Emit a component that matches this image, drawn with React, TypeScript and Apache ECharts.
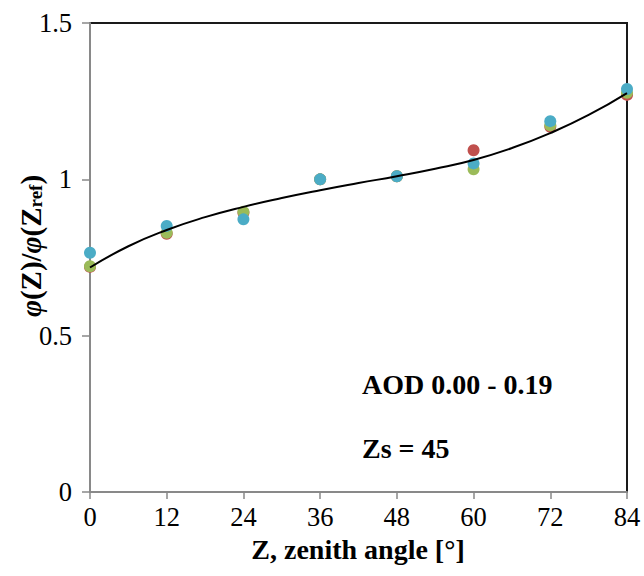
import React, { useEffect, useRef } from "react";
import * as echarts from "echarts";

const angles = [0, 12, 24, 36, 48, 60, 72, 84];
const redValues = [0.72, 0.826, 0.893, 1.0, 1.01, 1.093, 1.168, 1.27];
const greenValues = [0.722, 0.829, 0.896, 1.0, 1.01, 1.032, 1.173, 1.277];
const aquaValues = [0.765, 0.851, 0.872, 1.0, 1.01, 1.051, 1.186, 1.289];

const trendAngles = [0, 6, 12, 18, 24, 30, 36, 42, 48, 54, 60, 66, 72, 78, 84];
const trendValues = [0.718, 0.786, 0.838, 0.879, 0.912, 0.94, 0.965, 0.988, 1.01, 1.034, 1.062, 1.1, 1.148, 1.206, 1.276];

const xLabel = "Z, zenith angle [°]";
const note1 = "AOD 0.00 - 0.19";
const note2 = "Zs = 45";

const FONT = "Liberation Serif";

function pairs(xs: number[], ys: number[]) {
  return xs.map((x, i) => [x, ys[i]]);
}

export default function App() {
  const ref = useRef<HTMLDivElement>(null);
  useEffect(() => {
    if (!ref.current) return;
    const chart = echarts.init(ref.current, null, { renderer: "svg" });
    const dot = (name: string, color: string, vals: number[]) => ({
      type: "scatter",
      name,
      data: pairs(angles, vals),
      symbol: "circle",
      symbolSize: 12,
      itemStyle: { color, opacity: 1 },
      z: 2,
    });
    chart.setOption({
      animation: false,
      backgroundColor: "#ffffff",
      textStyle: { fontFamily: FONT },
      grid: {
        left: 90,
        top: 23,
        right: 17,
        bottom: 84,
        show: true,
        borderColor: "#1a1a1a",
        borderWidth: 2,
        backgroundColor: "transparent",
      },
      xAxis: {
        type: "value",
        min: 0,
        max: 84,
        interval: 12,
        splitLine: { show: false },
        axisLine: { show: true, onZero: false, lineStyle: { color: "#898989", width: 2 } },
        axisTick: { show: true, inside: false, length: 7, lineStyle: { color: "#898989", width: 1.5 } },
        axisLabel: { color: "#000", fontFamily: FONT, fontSize: 26.5, margin: 11 },
      },
      yAxis: {
        type: "value",
        min: 0,
        max: 1.5,
        interval: 0.5,
        splitLine: { show: false },
        axisLine: { show: true, onZero: false, lineStyle: { color: "#898989", width: 2 } },
        axisTick: { show: true, inside: false, length: 8, lineStyle: { color: "#898989", width: 1.5 } },
        axisLabel: { color: "#000", fontFamily: FONT, fontSize: 26.5, margin: 18 },
      },
      series: [
        dot("red", "#C0504D", redValues),
        dot("green", "#9BBB59", greenValues),
        dot("aqua", "#4BACC6", aquaValues),
        {
          type: "line",
          name: "trend",
          data: pairs(trendAngles, trendValues),
          smooth: true,
          showSymbol: false,
          symbol: "none",
          lineStyle: { color: "#000", width: 2 },
          z: 5,
        },
      ],
      graphic: [
        {
          type: "text",
          x: 358,
          y: 549,
          style: {
            text: xLabel,
            fontFamily: FONT,
            fontSize: 28,
            fontWeight: "bold",
            fill: "#000",
            align: "center",
            verticalAlign: "middle",
          },
        },
        {
          type: "text",
          x: 28,
          y: 246,
          rotation: Math.PI / 2,
          style: {
            text: "{p|φ}{b|(Z)/}{p|φ}{b|(Z}{s|ref}{b|)}",
            fontFamily: FONT,
            fill: "#000",
            align: "center",
            verticalAlign: "middle",
            rich: {
              p: { fontFamily: FONT, fontSize: 29, fontWeight: "bold", fontStyle: "italic", fill: "#000", lineHeight: 34, verticalAlign: "bottom" },
              b: { fontFamily: FONT, fontSize: 29, fontWeight: "bold", fill: "#000", lineHeight: 34, verticalAlign: "bottom" },
              s: { fontFamily: FONT, fontSize: 19, fontWeight: "bold", fill: "#000", lineHeight: 17, verticalAlign: "bottom" },
            },
          },
        },
        {
          type: "text",
          x: 362,
          y: 384,
          style: {
            text: note1,
            fontFamily: FONT,
            fontSize: 28,
            fontWeight: "bold",
            fill: "#000",
            align: "left",
            verticalAlign: "middle",
          },
        },
        {
          type: "text",
          x: 362,
          y: 448,
          style: {
            text: note2,
            fontFamily: FONT,
            fontSize: 28,
            fontWeight: "bold",
            fill: "#000",
            align: "left",
            verticalAlign: "middle",
          },
        },
      ],
    });
    return () => chart.dispose();
  }, []);
  return (
    <div
      ref={ref}
      style={{ position: "fixed", left: 0, top: 0, width: 644, height: 576, background: "#fff" }}
    />
  );
}
